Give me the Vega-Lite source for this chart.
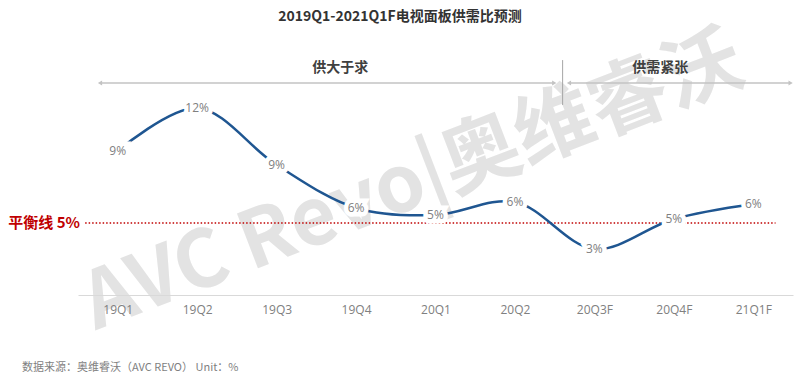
{
  "$schema": "https://vega.github.io/schema/vega-lite/v6.json",
  "width": 715,
  "height": 246,
  "autosize": {"type": "none"},
  "padding": {"left": 78, "top": 49, "right": 7, "bottom": 84},
  "background": "white",
  "config": {"view": {"stroke": null}, "font": "Noto Sans CJK SC"},
  "datasets": {
    "ratio": [
      {"quarter": "19Q1", "ratio": 9.37, "label": "9%"},
      {"quarter": "19Q2", "ratio": 12.16, "label": "12%"},
      {"quarter": "19Q3", "ratio": 8.46, "label": "9%"},
      {"quarter": "19Q4", "ratio": 5.66, "label": "6%"},
      {"quarter": "20Q1", "ratio": 5.2, "label": "5%"},
      {"quarter": "20Q2", "ratio": 6.05, "label": "6%"},
      {"quarter": "20Q3F", "ratio": 2.99, "label": "3%"},
      {"quarter": "20Q4F", "ratio": 4.94, "label": "5%"},
      {"quarter": "21Q1F", "ratio": 5.92, "label": "6%"}
    ],
    "phases": [
      {"phase": "供大于求", "start": 0.277, "end": 5.995, "mid": 3.3, "level": 13.79, "textLevel": 14.76},
      {"phase": "供需紧张", "start": 6.18, "end": 8.97, "mid": 7.33, "level": 13.79, "textLevel": 14.76}
    ],
    "heads": [
      {"pos": 0.277, "level": 13.79, "dir": "left"},
      {"pos": 5.995, "level": 13.79, "dir": "right"},
      {"pos": 6.18, "level": 13.79, "dir": "left"},
      {"pos": 8.97, "level": 13.79, "dir": "right"}
    ],
    "divider": [{"pos": 6.1, "top": 15.28, "bottom": 12.36}],
    "balance": [{"start": 0.09, "end": 8.78, "level": 4.68, "label": "平衡线 5%", "labelPos": 0.025}],
    "watermark": [{"pos": 4.22, "level": 7.3, "text": "AVC Revo|奥维睿沃"}],
    "heading": [{"pos": 4.053, "level": 18.08, "text": "2019Q1-2021Q1F电视面板供需比预测"}],
    "source": [{"pos": -0.705, "level": -4.75, "text": "数据来源：奥维睿沃（AVC REVO）  Unit：%"}]
  },
  "resolve": {"scale": {"x": "independent"}},
  "layer": [
    {
      "data": {"name": "watermark"},
      "mark": {"type": "text", "angle": -21, "fontSize": 79, "fontWeight": "bold", "font": "Noto Sans CJK SC", "color": "#e3e3e3", "align": "center", "baseline": "middle"},
      "encoding": {
        "x": {"field": "pos", "type": "quantitative", "scale": {"domain": [0, 9], "nice": false, "zero": false}, "axis": null},
        "y": {"field": "level", "type": "quantitative", "scale": {"domain": [0, 16], "nice": false, "zero": false}, "axis": null},
        "text": {"field": "text"}
      }
    },
    {
      "data": {"name": "heading"},
      "mark": {"type": "text", "fontSize": 14, "fontWeight": "bold", "font": "Noto Sans CJK SC", "color": "#333333", "align": "center", "baseline": "middle"},
      "encoding": {
        "x": {"field": "pos", "type": "quantitative", "scale": {"domain": [0, 9], "nice": false, "zero": false}, "axis": null},
        "y": {"field": "level", "type": "quantitative", "axis": null},
        "text": {"field": "text"}
      }
    },
    {
      "data": {"name": "phases"},
      "mark": {"type": "rule", "color": "#c3c3c3", "strokeWidth": 1.5},
      "encoding": {
        "x": {"field": "start", "type": "quantitative", "scale": {"domain": [0, 9], "nice": false, "zero": false}, "axis": null},
        "x2": {"field": "end"},
        "y": {"field": "level", "type": "quantitative", "axis": null}
      }
    },
    {
      "data": {"name": "heads"},
      "mark": {"type": "point", "filled": true, "color": "#c3c3c3", "size": 24, "opacity": 1},
      "encoding": {
        "x": {"field": "pos", "type": "quantitative", "scale": {"domain": [0, 9], "nice": false, "zero": false}, "axis": null},
        "y": {"field": "level", "type": "quantitative", "axis": null},
        "shape": {"field": "dir", "type": "nominal", "scale": {"domain": ["left", "right"], "range": ["triangle-left", "triangle-right"]}, "legend": null}
      }
    },
    {
      "data": {"name": "phases"},
      "mark": {"type": "text", "fontSize": 14, "fontWeight": "bold", "font": "Noto Sans CJK SC", "color": "#404040", "align": "center", "baseline": "middle"},
      "encoding": {
        "x": {"field": "mid", "type": "quantitative", "scale": {"domain": [0, 9], "nice": false, "zero": false}, "axis": null},
        "y": {"field": "textLevel", "type": "quantitative", "axis": null},
        "text": {"field": "phase"}
      }
    },
    {
      "data": {"name": "divider"},
      "mark": {"type": "rule", "color": "#a6a6a6", "strokeWidth": 1},
      "encoding": {
        "x": {"field": "pos", "type": "quantitative", "scale": {"domain": [0, 9], "nice": false, "zero": false}, "axis": null},
        "y": {"field": "top", "type": "quantitative", "axis": null},
        "y2": {"field": "bottom"}
      }
    },
    {
      "data": {"name": "balance"},
      "mark": {"type": "rule", "color": "#c00000", "strokeWidth": 1.5, "strokeDash": [1.5, 2]},
      "encoding": {
        "x": {"field": "start", "type": "quantitative", "scale": {"domain": [0, 9], "nice": false, "zero": false}, "axis": null},
        "x2": {"field": "end"},
        "y": {"field": "level", "type": "quantitative", "axis": null}
      }
    },
    {
      "data": {"name": "balance"},
      "mark": {"type": "text", "fontSize": 15, "fontWeight": "bold", "font": "Noto Sans CJK SC", "color": "#c00000", "align": "right", "baseline": "middle"},
      "encoding": {
        "x": {"field": "labelPos", "type": "quantitative", "scale": {"domain": [0, 9], "nice": false, "zero": false}, "axis": null},
        "y": {"field": "level", "type": "quantitative", "axis": null},
        "text": {"field": "label"}
      }
    },
    {
      "data": {"name": "source"},
      "mark": {"type": "text", "fontSize": 11, "font": "Noto Sans CJK SC", "color": "#7f7f7f", "align": "left", "baseline": "middle"},
      "encoding": {
        "x": {"field": "pos", "type": "quantitative", "scale": {"domain": [0, 9], "nice": false, "zero": false}, "axis": null},
        "y": {"field": "level", "type": "quantitative", "axis": null},
        "text": {"field": "text"}
      }
    },
    {
      "data": {"name": "ratio"},
      "mark": {"type": "line", "color": "#1f5691", "strokeWidth": 2.5, "interpolate": "catmull-rom"},
      "encoding": {
        "x": {
          "field": "quarter",
          "type": "nominal",
          "sort": null,
          "scale": {"type": "point", "padding": 0.5},
          "axis": {"title": null, "labelAngle": 0, "ticks": false, "labelPadding": 9, "labelFont": "Open Sans", "labelFontSize": 12, "labelColor": "#808080", "domainColor": "#d9d9d9", "domainWidth": 1, "grid": false, "zindex": 1}
        },
        "y": {"field": "ratio", "type": "quantitative", "axis": null}
      }
    },
    {
      "data": {"name": "ratio"},
      "mark": {"type": "text", "fontSize": 12, "font": "Open Sans", "fill": "white", "stroke": "white", "strokeWidth": 9, "align": "center", "baseline": "middle"},
      "encoding": {
        "x": {"field": "quarter", "type": "nominal", "sort": null, "scale": {"type": "point", "padding": 0.5}, "axis": null},
        "y": {"field": "ratio", "type": "quantitative", "axis": null},
        "text": {"field": "label"}
      }
    },
    {
      "data": {"name": "ratio"},
      "mark": {"type": "text", "fontSize": 12, "font": "Open Sans", "color": "#808080", "align": "center", "baseline": "middle"},
      "encoding": {
        "x": {"field": "quarter", "type": "nominal", "sort": null, "scale": {"type": "point", "padding": 0.5}, "axis": null},
        "y": {"field": "ratio", "type": "quantitative", "axis": null},
        "text": {"field": "label"}
      }
    }
  ]
}
